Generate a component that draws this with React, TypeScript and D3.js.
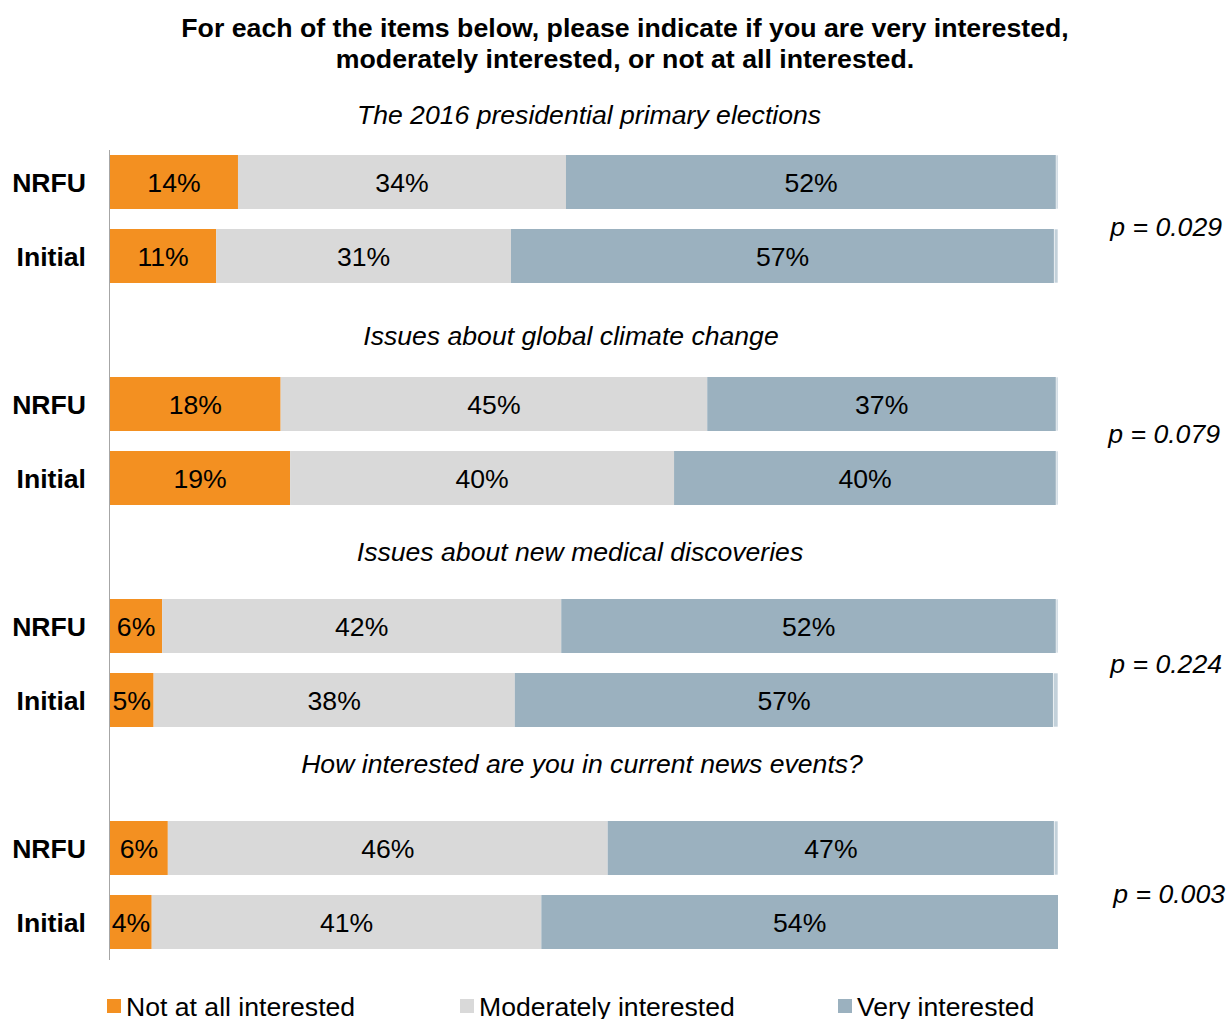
import React from "react";
import * as d3 from "d3";

const questions = [
  "The 2016 presidential primary elections",
  "Issues about global climate change",
  "Issues about new medical discoveries",
  "How interested are you in current news events?",
];
const groups = ["NRFU", "Initial"];
const pValues = ["p = 0.029", "p = 0.079", "p = 0.224", "p = 0.003"];
const seriesNames = ["Not at all interested", "Moderately interested", "Very interested"];

// rows: q0 NRFU, q0 Initial, q1 NRFU, ...
const notAtAll = [13.5, 11.2, 18.0, 19.0, 5.5, 4.6, 6.1, 4.4];
const moderately = [34.6, 31.1, 45.0, 40.5, 42.1, 38.1, 46.4, 41.1];
const very = [51.7, 57.3, 36.8, 40.3, 52.2, 56.8, 47.1, 54.5];
const remainder = [0.2, 0.4, 0.2, 0.2, 0.2, 0.5, 0.4, 0.0];

const notAtAllLabels = ["14%", "11%", "18%", "19%", "6%", "5%", "6%", "4%"];
const moderatelyLabels = ["34%", "31%", "45%", "40%", "42%", "38%", "46%", "41%"];
const veryLabels = ["52%", "57%", "37%", "40%", "52%", "57%", "47%", "54%"];

const colors = ["#F39021", "#D9D9D9", "#9BB1BF", "#C3D1DA"];
const FONT = "'Liberation Sans', Arial, sans-serif";
const FS = 26.6;

export default function App() {
  const W = 1228, H = 1019;
  const left = 110, right = 1058;
  const x = d3.scaleLinear().domain([0, 100]).range([left, right]);
  const rowIdx = d3.range(11);
  const y = d3.scaleBand<number>().domain(rowIdx).range([145, 959]).paddingInner(20 / 74).paddingOuter(10 / 74);
  const rowOf = (i: number) => Math.floor(i / 2) * 3 + (i % 2);
  const bh = y.bandwidth();

  const series = [notAtAll, moderately, very, remainder];
  const labels = [notAtAllLabels, moderatelyLabels, veryLabels];

  const titleY = [115, 336, 552, 764];
  const titleX = [589, 571, 580, 582];
  const pY = [226, 433, 663, 893];
  const pX = [1222, 1220, 1222, 1225];

  return (
    <svg width={W} height={H} style={{ position: "absolute", left: 0, top: 0, fontFamily: FONT }}>
      <rect width={W} height={H} fill="#fff" />
      <text x={625} y={37} textAnchor="middle" fontWeight="bold" fontSize={26.7}>
        For each of the items below, please indicate if you are very interested,
      </text>
      <text x={625} y={68} textAnchor="middle" fontWeight="bold" fontSize={26.7}>
        moderately interested, or not at all interested.
      </text>
      {questions.map((q, k) => (
        <text key={q} x={titleX[k]} y={titleY[k] + 9} textAnchor="middle" fontStyle="italic" fontSize={FS}>
          {q}
        </text>
      ))}
      {notAtAll.map((_, i) => {
        const yy = y(rowOf(i))!;
        let acc = 0;
        const segs = series.map((s, si) => {
          const x0 = x(acc);
          acc += s[i];
          const x1 = x(acc);
          return { x0, x1, si };
        });
        return (
          <g key={i}>
            {segs.map(({ x0, x1, si }) =>
              x1 - x0 > 0 ? (
                <rect key={si} x={x0} y={yy} width={x1 - x0} height={bh} fill={colors[si]}
                  stroke={si === 3 ? "#fff" : "none"} strokeWidth={si === 3 ? 0.6 : 0} />
              ) : null
            )}
            {segs.slice(0, 3).map(({ x0, x1, si }) => (
              <text key={"l" + si} x={(x0 + x1) / 2} y={yy + bh / 2 + 9.5} textAnchor="middle" fontSize={FS} fill="#000">
                {labels[si][i]}
              </text>
            ))}
            <text x={86} y={yy + bh / 2 + 9.5} textAnchor="end" fontWeight="bold" fontSize={FS}>
              {groups[i % 2]}
            </text>
          </g>
        );
      })}
      <line x1={109.5} x2={109.5} y1={150} y2={960} stroke="#A6A6A6" strokeWidth={1} />
      {pValues.map((p, k) => (
        <text key={p} x={pX[k]} y={pY[k] + 9.5} textAnchor="end" fontStyle="italic" fontSize={FS}>
          {p}
        </text>
      ))}
      {seriesNames.map((n, k) => {
        const lx = [107, 460, 838][k];
        return (
          <g key={n}>
            <rect x={lx} y={999} width={14} height={14} fill={colors[k]} />
            <text x={lx + 19} y={1016} fontSize={FS}>{n}</text>
          </g>
        );
      })}
    </svg>
  );
}
